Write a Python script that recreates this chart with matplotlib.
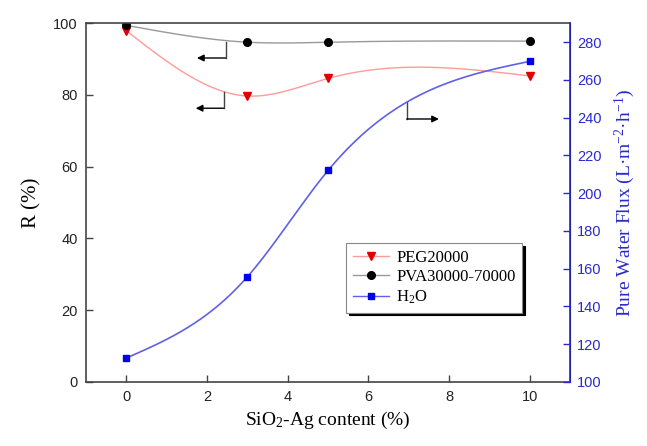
import numpy as np
import matplotlib.pyplot as plt

plt.rcParams['mathtext.fontset'] = 'custom'
plt.rcParams['mathtext.rm'] = 'Liberation Serif'
plt.rcParams['mathtext.it'] = 'Liberation Serif:italic'

# Data
content = [0, 3, 5, 10]
r_peg = [97.9, 79.7, 84.6, 85.3]
r_pva = [99.4, 94.7, 94.7, 95.0]
flux_h2o = [112.7, 155.7, 212.0, 269.8]

blue = '#2a2acc'


# Natural cubic spline for the smooth connecting lines
def spline(x, y, n=300):
    x = np.asarray(x, float)
    y = np.asarray(y, float)
    m = len(x)
    h = np.diff(x)
    A = np.zeros((m, m))
    b = np.zeros(m)
    A[0, 0] = A[-1, -1] = 1
    for i in range(1, m - 1):
        A[i, i - 1] = h[i - 1]
        A[i, i] = 2 * (h[i - 1] + h[i])
        A[i, i + 1] = h[i]
        b[i] = 3 * ((y[i + 1] - y[i]) / h[i] - (y[i] - y[i - 1]) / h[i - 1])
    c = np.linalg.solve(A, b)
    xs = np.linspace(x[0], x[-1], n)
    ys = np.empty_like(xs)
    for k, xv in enumerate(xs):
        i = min(np.searchsorted(x, xv, side='right') - 1, m - 2)
        bi = (y[i + 1] - y[i]) / h[i] - h[i] * (2 * c[i] + c[i + 1]) / 3
        di = (c[i + 1] - c[i]) / (3 * h[i])
        t = xv - x[i]
        ys[k] = y[i] + bi * t + c[i] * t**2 + di * t**3
    return xs, ys


fig = plt.figure(figsize=(6.47, 4.46), dpi=100)
ax = fig.add_axes([0.133, 0.1435, 0.748, 0.8045])
ax2 = ax.twinx()

# PEG and PVA rejection on left axis
xs, ys = spline(content, r_peg)
ax.plot(xs, ys, color='#ff9a9a', lw=1)
ax.plot(content, r_peg, 'v', color='#e00000', ms=6)
xs, ys = spline(content, r_pva)
ax.plot(xs, ys, color='#999999', lw=1)
ax.plot(content, r_pva, 'o', color='black', ms=5.5)

# Water flux on right axis
xs, ys = spline(content, flux_h2o)
ax2.plot(xs, ys, color='#6060e8', lw=1.2)
ax2.plot(content, flux_h2o, 's', color='#0000ee', ms=5)

# Legend handles
h1, = ax.plot([], [], '-v', color='#ff9a9a', mfc='#e00000', mec='#e00000', ms=6, lw=1, label='PEG20000')
h2, = ax.plot([], [], '-o', color='#999999', mfc='black', mec='black', ms=5.5, lw=1, label='PVA30000-70000')
h3, = ax.plot([], [], '-s', color='#6060e8', mfc='#0000ee', mec='#0000ee', ms=5, lw=1, label='H$_2$O')
leg = ax.legend(handles=[h1, h2, h3], loc='upper left', bbox_to_anchor=(0.52, 0.41),
                prop={'family': 'Liberation Serif', 'size': 12}, frameon=True, fancybox=False,
                shadow={'color': 'black', 'alpha': 1}, edgecolor='#888888',
                handlelength=2.2, handletextpad=0.4, borderpad=0.4, labelspacing=0.2)
leg.get_frame().set_linewidth(0.8)


# Bracket arrows showing which axis each curve uses
def bracket(axis, x0, y0, y1, x1):
    axis.plot([x0, x0], [y0, y1], color='#444444', lw=1)
    axis.annotate('', xy=(x1, y1), xytext=(x0, y1),
                  arrowprops=dict(arrowstyle='-|>', color='black', lw=1, mutation_scale=10,
                                  shrinkA=0, shrinkB=0))


bracket(ax, 2.46, 94.7, 90.3, 1.75)
bracket(ax, 2.41, 80.8, 76.3, 1.72)
bracket(ax, 6.95, 78.0, 73.3, 7.75)

ax.set_xlim(-1, 11)
ax.set_ylim(0, 100)
ax2.set_ylim(100, 290)
ax.set_xticks([0, 2, 4, 6, 8, 10])
ax.set_yticks([0, 20, 40, 60, 80, 100])
ax2.set_yticks(range(100, 281, 20))

tick_font = 'Liberation Sans'
for lab in ax.get_xticklabels() + ax.get_yticklabels():
    lab.set_family(tick_font)
    lab.set_fontsize(10.5)
for lab in ax2.get_yticklabels():
    lab.set_family(tick_font)
    lab.set_fontsize(10.5)

ax.tick_params(direction='in', length=5, width=1, top=False, colors='#444444', labelcolor='#222222')
ax.tick_params(axis='x', pad=6)
ax.tick_params(axis='y', pad=6)
ax2.tick_params(direction='in', length=5, width=1, colors=blue, labelcolor=blue, pad=5)

for s in ['left', 'bottom', 'top']:
    ax.spines[s].set_color('#444444')
    ax.spines[s].set_linewidth(1.2)
ax2.spines['right'].set_color(blue)
ax2.spines['right'].set_linewidth(1.2)
for s in ['left', 'bottom', 'top']:
    ax2.spines[s].set_visible(False)

ax.set_xlabel('SiO$_2$-Ag content (%)', family='Liberation Serif', fontsize=14, labelpad=4)
ax.set_ylabel('R (%)', family='Liberation Serif', fontsize=15, labelpad=8)
ax2.set_ylabel('Pure Water Flux (L·m$^{-2}$·h$^{-1}$)', family='Liberation Serif',
               fontsize=14, color=blue, labelpad=8)

fig.savefig('out.png', dpi=100)
